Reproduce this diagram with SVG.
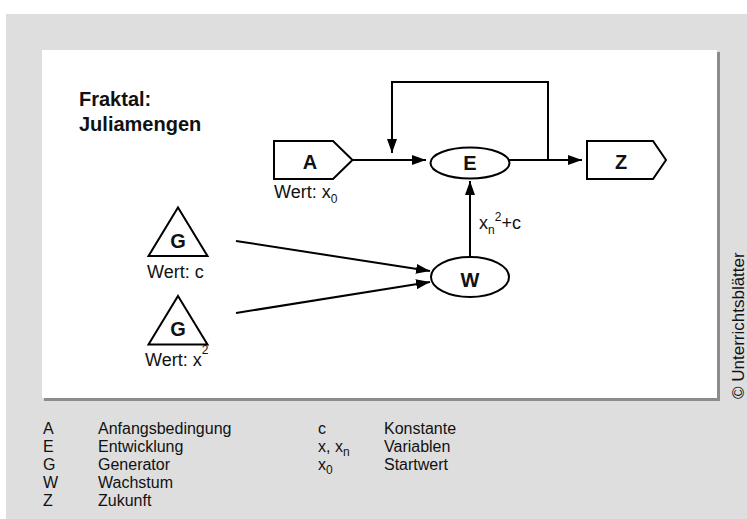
<svg xmlns="http://www.w3.org/2000/svg" width="747" height="519" viewBox="0 0 747 519">
  <style>
    .t { font-family: "Liberation Sans", Arial, sans-serif; fill: #111; }
    .lbl { font-size: 18px; }
    .node { font-size: 20px; font-weight: bold; text-anchor: middle; }
    .leg { font-size: 16px; }
    .sub { font-size: 12px; }
    .shape { fill: #fff; stroke: #000; stroke-width: 2; }
    .edge { fill: none; stroke: #000; stroke-width: 2; }
  </style>
  <defs>
    <marker id="arrow" markerUnits="userSpaceOnUse" markerWidth="15" markerHeight="11" refX="14" refY="5" orient="auto">
      <path d="M0,0 L14,5 L0,10 Z" fill="#000"/>
    </marker>
  </defs>

  <!-- page background -->
  <rect x="0" y="0" width="747" height="519" fill="#fff"/>
  <rect x="6" y="14" width="741" height="505" fill="#dedede"/>
  <!-- panel with shadow -->
  <rect x="44" y="52" width="676" height="349" fill="#8c8c8c"/>
  <rect x="42" y="50" width="675" height="348" fill="#fff"/>

  <!-- title -->
  <g id="title">
    <text class="t" x="79" y="106" font-size="20" font-weight="bold">Fraktal:</text>
    <text class="t" x="79" y="131" font-size="20" font-weight="bold">Juliamengen</text>
  </g>

  <!-- connectors -->
  <g id="connectors">
    <path class="edge" d="M352.5,160 H426" marker-end="url(#arrow)"/>
    <path class="edge" d="M509,160 H582" marker-end="url(#arrow)"/>
    <path class="edge" d="M548,160 V82 H392 V153" marker-end="url(#arrow)"/>
    <path class="edge" d="M470,257 V181" marker-end="url(#arrow)"/>
    <path class="edge" d="M236,241 L430,271" marker-end="url(#arrow)"/>
    <path class="edge" d="M236,313 L430,282" marker-end="url(#arrow)"/>
    <text class="t lbl" x="479" y="229">x<tspan class="sub" dy="5">n</tspan><tspan class="sub" dy="-13">2</tspan><tspan dy="8">+c</tspan></text>
  </g>

  <!-- node A: initial condition -->
  <g id="node-A">
    <path class="shape" d="M274,141 H333 L352.5,160 L333,179 H274 Z"/>
    <text class="t node" x="310" y="169">A</text>
    <text class="t lbl" x="274" y="198">Wert: x<tspan class="sub" dy="5">0</tspan></text>
  </g>

  <!-- node E: development -->
  <g id="node-E">
    <ellipse class="shape" cx="470" cy="163" rx="39.5" ry="15.5"/>
    <text class="t node" x="470" y="170">E</text>
  </g>

  <!-- node Z: future -->
  <g id="node-Z">
    <path class="shape" d="M587,141 H653 L666,160 L653,179 H587 Z"/>
    <text class="t node" x="621" y="169">Z</text>
  </g>

  <!-- node W: growth -->
  <g id="node-W">
    <ellipse class="shape" cx="470" cy="277" rx="39" ry="20"/>
    <text class="t node" x="470" y="287">W</text>
  </g>

  <!-- generator c -->
  <g id="node-G1">
    <path class="shape" d="M178,207.5 L207.5,256 H148.5 Z"/>
    <text class="t node" x="178" y="248">G</text>
    <text class="t lbl" x="147" y="278">Wert: c</text>
  </g>

  <!-- generator x^2 -->
  <g id="node-G2">
    <path class="shape" d="M178,296 L207.5,344.5 H148.5 Z"/>
    <text class="t node" x="178" y="336">G</text>
    <text class="t lbl" x="145" y="366">Wert: x<tspan class="sub" dy="-12">2</tspan></text>
  </g>

  <!-- legend -->
  <g id="legend" class="t leg">
    <text x="43" y="434">A</text><text x="98" y="434">Anfangsbedingung</text>
    <text x="43" y="452">E</text><text x="98" y="452">Entwicklung</text>
    <text x="43" y="470">G</text><text x="98" y="470">Generator</text>
    <text x="43" y="488">W</text><text x="98" y="488">Wachstum</text>
    <text x="43" y="506">Z</text><text x="98" y="506">Zukunft</text>
    <text x="318" y="434">c</text><text x="384" y="434">Konstante</text>
    <text x="318" y="452">x, x<tspan class="sub" dy="4">n</tspan></text><text x="384" y="452">Variablen</text>
    <text x="318" y="470">x<tspan class="sub" dy="4">0</tspan></text><text x="384" y="470">Startwert</text>
  </g>

  <!-- copyright -->
  <text class="t" font-size="17" transform="translate(744,399) rotate(-90)">© Unterrichtsblätter</text>
</svg>
